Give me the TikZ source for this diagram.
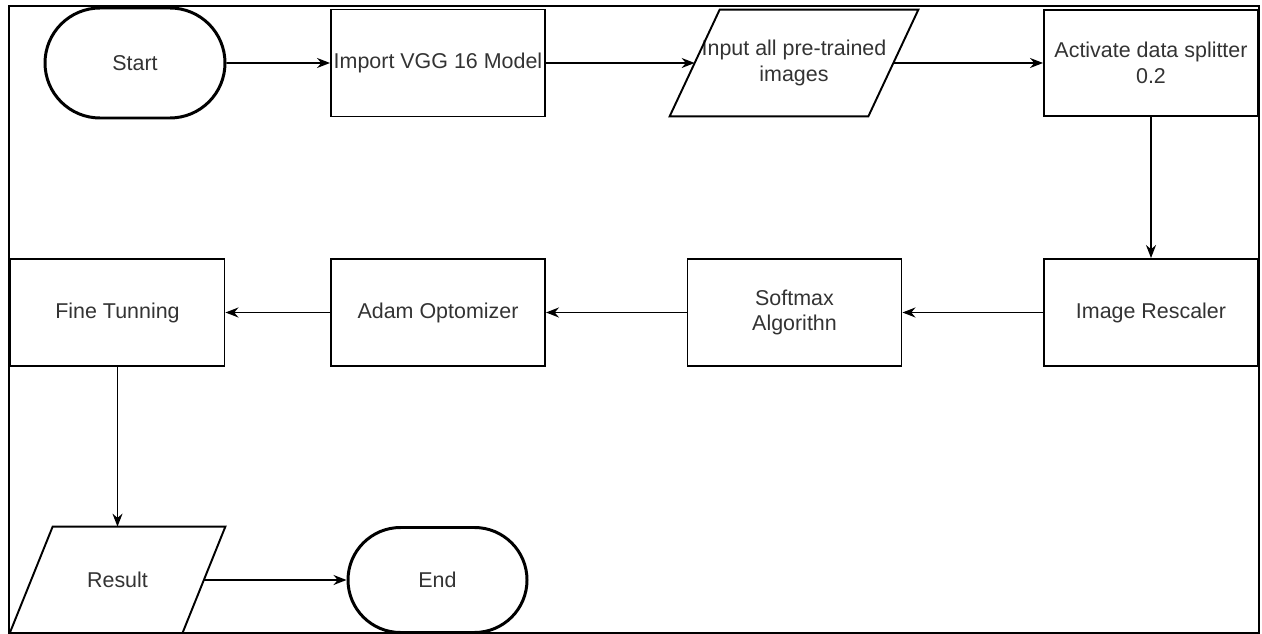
\documentclass[tikz,border=0pt]{standalone}
\usepackage{fontspec}
\setmainfont{Liberation Sans}
\usetikzlibrary{arrows.meta, shapes.misc, calc}
\definecolor{textgray}{RGB}{51,51,51}

\begin{document}
\begin{tikzpicture}[
  every node/.style={font=\fontsize{12.2}{14.5}\selectfont, text=textgray},
  box/.style={draw, line width=1.1pt, minimum width=4.28cm, minimum height=2.14cm,
              inner sep=0pt, align=center},
  term/.style={draw, rounded rectangle, line width=1.7pt,
               minimum width=3.6cm, minimum height=2.2cm, inner sep=0pt},
  io/.style={minimum height=2.12cm, inner sep=0pt, align=center},
  para/.style={line width=1.1pt},
  arr/.style={-{Stealth[length=0.26cm, width=0.2cm]}, line width=0.9pt},
]
\useasboundingbox (0,0) rectangle (25.24,-12.68);

% outer frame
\draw[line width=1.1pt] (0.18,-0.12) rectangle (25.18,-12.66);

% top row
\node[term] (start) at (2.70,-1.26) {Start};
\node[box] (vgg) at (8.76,-1.26) {Import VGG 16 Model};
\node[io, minimum width=4.96cm] (inp) at (15.88,-1.26) {Input all pre-trained\\images};
\node[box, minimum height=2.12cm] (split) at (23.02,-1.26) {Activate data splitter\\0.2};

% middle row
\node[box] (rescale) at (23.02,-6.25) {Image Rescaler};
\node[box] (softmax) at (15.89,-6.25) {Softmax\\Algorithn};
\node[box] (adam) at (8.76,-6.25) {Adam Optomizer};
\node[box] (fine) at (2.35,-6.25) {Fine Tunning};

% bottom row
\node[io, minimum width=4.30cm] (res) at (2.35,-11.60) {Result};
\node[term, minimum width=3.58cm, minimum height=2.1cm] (stop) at (8.75,-11.60) {End};

% parallelograms
\draw[para] (inp.south west) -- ([xshift=1cm]inp.north west) -- (inp.north east)
  -- ([xshift=-1cm]inp.south east) -- cycle;
\draw[para] (res.south west) -- ([xshift=0.86cm]res.north west) -- (res.north east)
  -- ([xshift=-0.86cm]res.south east) -- cycle;

% flow
\draw[arr] (start) -- (vgg);
\draw[arr] (vgg) -- ([xshift=0.5cm]inp.west);
\draw[arr] ([xshift=-0.5cm]inp.east) -- (split);
\draw[arr] (split) -- (rescale);
\draw[arr] (rescale) -- (softmax);
\draw[arr] (softmax) -- (adam);
\draw[arr] (adam) -- (fine);
\draw[arr] (fine) -- (res);
\draw[arr] ([xshift=-0.43cm]res.east) -- (stop);

\end{tikzpicture}
\end{document}
